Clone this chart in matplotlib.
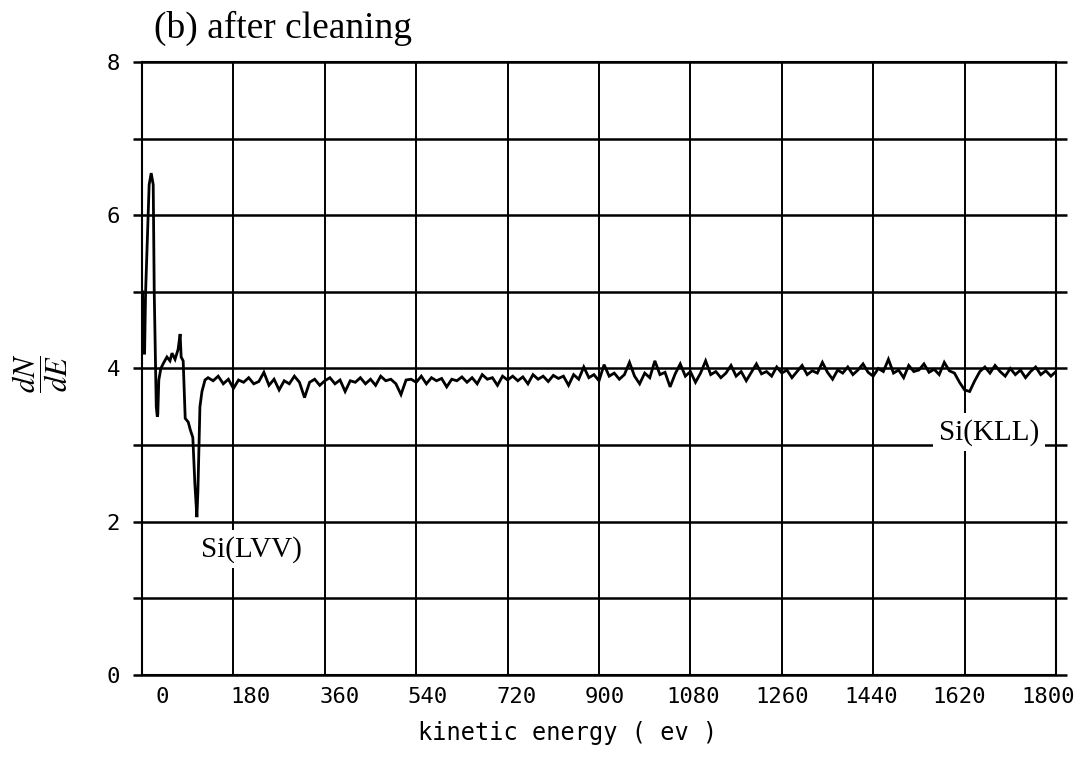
import numpy as np
import matplotlib.pyplot as plt

plt.rcParams['font.family'] = 'DejaVu Sans Mono'
plt.rcParams['mathtext.fontset'] = 'stix'

# low-energy part of the spectrum (Si LVV region)
e_low = [1, 3, 5, 7, 10, 14, 18, 22, 24, 28, 30, 31, 33, 37, 43, 49, 55, 59, 65, 71,
         75, 77, 81, 85, 91, 95, 100, 104, 108, 110, 114, 118, 124]
n_low = [5.0, 4.2, 4.2, 5.0, 5.6, 6.4, 6.55, 6.4, 5.0, 3.5, 3.37, 3.4, 3.85, 4.0, 4.08, 4.15, 4.1, 4.2, 4.12, 4.25,
         4.45, 4.15, 4.1, 3.35, 3.3, 3.2, 3.1, 2.5, 2.06, 2.4, 3.5, 3.7, 3.85]

# rest of the spectrum, every 10 eV from 130 to 1800
e_high = np.arange(130, 1801, 10)
n_high = [3.88, 3.84, 3.90, 3.80, 3.86, 3.74, 3.85, 3.82, 3.88, 3.80,
          3.83, 3.95, 3.78, 3.86, 3.72, 3.84, 3.80, 3.90, 3.82, 3.62,
          3.82, 3.86, 3.78, 3.84, 3.88, 3.80, 3.85, 3.70, 3.84, 3.82,
          3.88, 3.80, 3.86, 3.78, 3.90, 3.84, 3.86, 3.80, 3.66, 3.85,
          3.86, 3.82, 3.90, 3.80, 3.88, 3.84, 3.87, 3.76, 3.86, 3.84,
          3.89, 3.82, 3.88, 3.80, 3.92, 3.86, 3.88, 3.78, 3.90, 3.85,
          3.90, 3.84, 3.89, 3.80, 3.92, 3.86, 3.90, 3.83, 3.91, 3.87,
          3.90, 3.78, 3.92, 3.86, 4.02, 3.88, 3.92, 3.84, 4.05, 3.90,
          3.94, 3.86, 3.92, 4.08, 3.90, 3.80, 3.94, 3.88, 4.10, 3.92,
          3.95, 3.76, 3.93, 4.06, 3.90, 3.96, 3.82, 3.94, 4.10, 3.92,
          3.96, 3.88, 3.94, 4.04, 3.90, 3.96, 3.84, 3.95, 4.06, 3.93,
          3.96, 3.90, 4.02, 3.94, 3.98, 3.88, 3.96, 4.04, 3.92, 3.97,
          3.94, 4.08, 3.95, 3.86, 3.98, 3.94, 4.02, 3.92, 3.98, 4.06,
          3.95, 3.90, 4.00, 3.96, 4.12, 3.94, 3.98, 3.88, 4.04, 3.96,
          3.98, 4.06, 3.95, 3.99, 3.92, 4.08, 3.97, 3.94, 3.82, 3.72,
          3.70, 3.84, 3.96, 4.02, 3.94, 4.04, 3.96, 3.90, 4.00, 3.92,
          3.98, 3.88, 3.96, 4.02, 3.92, 3.97, 3.90, 3.96]

energy = np.concatenate([e_low, e_high])
dnde = np.concatenate([n_low, n_high])

x_ticks = np.arange(0, 1801, 180)
y_ticks = [0, 2, 4, 6, 8]
peaks = [("Si(LVV)", 215, 1.64), ("Si(KLL)", 1668, 3.17)]

fig = plt.figure(figsize=(10.91, 7.59), dpi=100)
ax = fig.add_axes([0.1302, 0.1107, 0.8377, 0.8076])
ax.set_xlim(0, 1800)
ax.set_ylim(0, 8)

# grid: vertical every 180 eV, horizontal every unit
ax.set_xticks(x_ticks)
ax.grid(axis='x', color='k', lw=1.4)
ax.hlines(np.arange(0, 9), -18, 1822, colors='k', lw=1.8, clip_on=False, zorder=1)
for s in ax.spines.values():
    s.set_linewidth(1.5)
    s.set_color('k')

ax.plot(energy, dnde, color='k', lw=2.0, solid_joinstyle='miter', zorder=3)

ax.tick_params(axis='x', length=0, labelbottom=False)
ax.set_yticks(y_ticks)
ax.tick_params(axis='y', length=0, pad=16, labelsize=16)

# printed energy scale is slightly offset from the grid
def grid_to_label(g):
    return (g - 39.4) / 0.9693

def label_to_grid(v):
    return 39.4 + 0.9693 * v

sec = ax.secondary_xaxis('bottom', functions=(grid_to_label, label_to_grid))
sec.set_xticks(x_ticks)
sec.tick_params(length=0, pad=9, labelsize=16)
sec.spines['bottom'].set_visible(False)

for name, xe, yv in peaks:
    ax.text(xe, yv, name, family='Liberation Serif', fontsize=21, ha='center', va='center',
            bbox=dict(facecolor='white', edgecolor='none', pad=4), zorder=4)

fig.text(568 / 1091, 1 - 733 / 759, "kinetic energy ( ev )", fontsize=17, ha='center', va='center')
fig.text(40 / 1091, 1 - 373 / 759, r'$\dfrac{dN}{dE}$', fontsize=22, rotation=90, ha='center', va='center')
fig.text(283 / 1091, 1 - 28 / 759, "(b) after cleaning", family='Liberation Serif', fontsize=27,
         ha='center', va='center')

plt.savefig("out.png", dpi=100)
